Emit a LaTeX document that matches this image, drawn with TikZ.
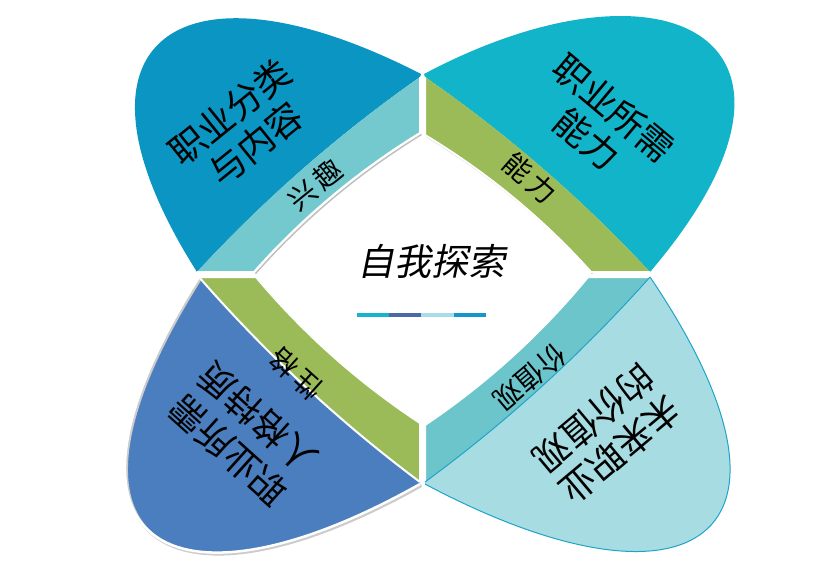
\documentclass[tikz,border=0pt]{standalone}
\usepackage{fontspec}
\newfontfamily\cjk{Noto Sans CJK SC}
\newfontfamily\cjkslant{Noto Sans CJK SC}[FakeSlant=0.2]
\definecolor{petalTL}{HTML}{0A95C2}
\definecolor{petalTR}{HTML}{12B4C9}
\definecolor{petalBL}{HTML}{4A7EBE}
\definecolor{petalBR}{HTML}{A7DDE2}
\definecolor{bandTL}{HTML}{74C9CF}
\definecolor{bandGR}{HTML}{9BBB59}
\definecolor{bandBR}{HTML}{6CC5CB}
\definecolor{edgeBR}{HTML}{1FA4C9}
\definecolor{segA}{HTML}{17B3D0}
\definecolor{segB}{HTML}{4B6AA5}
\definecolor{segC}{HTML}{A7DCE8}
\definecolor{segD}{HTML}{1596CC}
\begin{document}
\begin{tikzpicture}[x=1pt,y=-1pt,
  petaltext/.style={inner sep=0pt, align=center, text=black,
    font=\cjk\fontsize{36}{41}\selectfont},
  bandtext/.style={inner sep=0pt, text=black,
    font=\cjk\fontsize{28}{30}\selectfont},
  whiteedge/.style={draw=white, line width=2pt, line join=round},
  shadowedge/.style={draw=black!25, line width=1.5pt, line join=round}]
\useasboundingbox[fill=white] (0,0) rectangle (829,566);
% key points
\coordinate (TLo1) at (197,272); \coordinate (TLo2) at (420,77);
\coordinate (TLi2) at (420,133); \coordinate (TLi1) at (254,272);
\coordinate (TRo1) at (425,77); \coordinate (TRo2) at (650,272);
\coordinate (TRi2) at (591,272); \coordinate (TRi1) at (425,135);
\coordinate (BRo1) at (650,277); \coordinate (BRo2) at (425,482);
\coordinate (BRi2) at (425,425); \coordinate (BRi1) at (588,277);
\coordinate (BLo1) at (420,482); \coordinate (BLo2) at (199,277);
\coordinate (BLi2) at (256,277); \coordinate (BLi1) at (420,423);
\coordinate (tipT1) at (421,74); \coordinate (tipT2) at (424,74);
\coordinate (tipB1) at (420,484); \coordinate (tipB2) at (425,484);
% petals
\fill[petalTL] (TLo1) .. controls (50,40) and (180,-50) .. (tipT1) -- (TLo2)
  .. controls (338.7,134) and (264.3,199) .. (TLo1) -- cycle;
\fill[petalTR] (tipT2) .. controls (667,-55) and (848,40) .. (TRo2)
  .. controls (582,198.9) and (507,133.9) .. (TRo1) -- cycle;
\fill[petalBR] (BRo1) .. controls (828,540) and (690,625) .. (tipB2) -- (BRo2)
  .. controls (507.2,421.6) and (582.2,353.2) .. (BRo1) -- cycle;
\draw[edgeBR, line width=1pt] (BRo1) .. controls (828,540) and (690,625) .. (tipB2);
\fill[petalBL] (BLo2) .. controls (30,545) and (170,625) .. (tipB1) -- (BLo1)
  .. controls (339,421.5) and (265.4,353.1) .. (BLo2) -- cycle;
\draw[black!20, line width=3pt] ([shift={(1.5,1.5)}]BLo2) .. controls (31.5,546.5) and (171.5,626.5) .. ([shift={(1.5,1.5)}]tipB1);
\draw[white, line width=2.5pt] (BLo2) .. controls (30,545) and (170,625) .. (tipB1);
% bands
\fill[bandTL] (TLo1) .. controls (264.3,199) and (338.7,134) .. (TLo2) -- (TLi2)
  .. controls (357.8,171.1) and (302.4,217.5) .. (TLi1) -- cycle;
\fill[bandGR] (TRo1) .. controls (507,133.9) and (582,198.9) .. (TRo2) -- (TRi2)
  .. controls (542.5,218.1) and (487.1,172.5) .. (TRi1) -- cycle;
\fill[bandBR] (BRo1) .. controls (582.2,353.2) and (507.2,421.6) .. (BRo2) -- (BRi2)
  .. controls (486.5,383.6) and (540.9,334.2) .. (BRi1) -- cycle;
\fill[bandGR] (BLo1) .. controls (339,421.5) and (265.4,353.1) .. (BLo2) -- (BLi2)
  .. controls (303.6,333.7) and (358.2,382.3) .. (BLi1) -- cycle;
% band edges
\draw[shadowedge] (421.5,134.5) .. controls (359.3,172.6) and (303.9,219) .. (255.5,273.5);
\draw[shadowedge] (426.5,136.5) .. controls (488.6,174) and (544,219.6) .. (592.5,273.5);
\draw[whiteedge] (TLo2) -- (TLi2) .. controls (357.8,171.1) and (302.4,217.5) .. (TLi1) -- (TLo1);
\draw[whiteedge] (TRo2) -- (TRi2) .. controls (542.5,218.1) and (487.1,172.5) .. (TRi1) -- (TRo1);
\draw[whiteedge] (BRo2) -- (BRi2) .. controls (486.5,383.6) and (540.9,334.2) .. (BRi1) -- (BRo1);
\draw[whiteedge] (BLo2) -- (BLi2) .. controls (303.6,333.7) and (358.2,382.3) .. (BLi1) -- (BLo1);
\draw[white, line width=2pt] (BLo1) .. controls (339,421.5) and (265.4,353.1) .. (BLo2);
\draw[edgeBR, line width=1pt] (BRo1) .. controls (582.2,353.2) and (507.2,421.6) .. (BRo2);
% petal texts
\node[petaltext, rotate=39] (tlText) at (243,128) {职业分类\\与内容};
\node[petaltext, rotate=-40] (trText) at (600,124) {职业所需\\能力};
\node[petaltext, rotate=138, font=\cjk\fontsize{36}{44}\selectfont] (blText) at (243,434) {职业所需\\人格特质};
\node[petaltext, rotate=220] (brText) at (607,434) {未来职业\\的价值观};
% band texts
\node[bandtext, rotate=39] (tlBand) at (315,185) {兴\,趣};
\node[bandtext, rotate=-41] (trBand) at (530,178) {能\,力};
\node[bandtext, rotate=138] (blBand) at (296,374) {性\,格};
\node[bandtext, rotate=220] (brBand) at (530,378) {价值观};
% centre
\node[inner sep=0pt, font=\cjkslant\fontsize{37}{40}\selectfont] (centre) at (431,261) {自我探索};
\coordinate (s0) at (357,315); \coordinate (s1) at (389,315);
\coordinate (s2) at (421,315); \coordinate (s3) at (454,315);
\coordinate (s4) at (486,315);
\draw[segA, line width=4pt] (s0) -- (s1);
\draw[segB, line width=4pt] (s1) -- (s2);
\draw[segC, line width=4pt] (s2) -- (s3);
\draw[segD, line width=4pt] (s3) -- (s4);
\end{tikzpicture}
\end{document}
